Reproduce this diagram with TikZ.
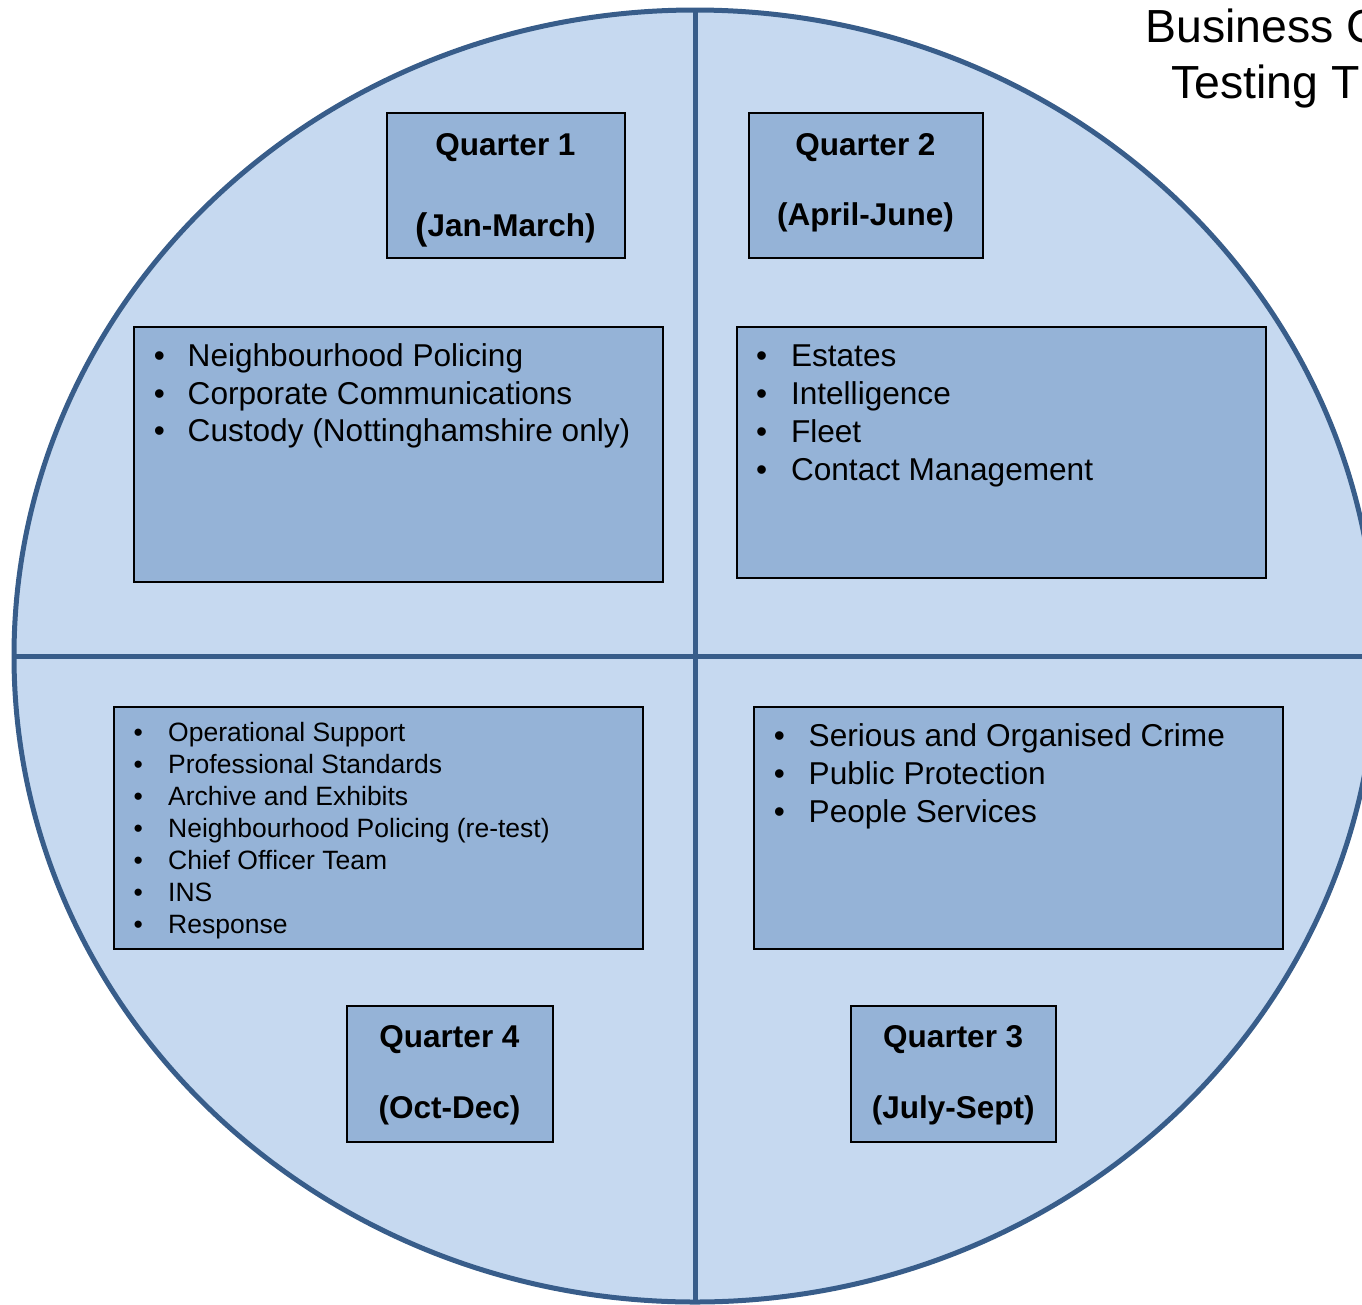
\documentclass[tikz,border=0pt]{standalone}
\usepackage{fontspec}
\setmainfont{Liberation Sans}
\usetikzlibrary{shapes.geometric}
\definecolor{ringline}{HTML}{385D8A}
\definecolor{ringfill}{HTML}{C6D9F0}
\definecolor{boxfill}{HTML}{95B3D7}
\tikzset{
  panel/.style={draw=black, line width=2pt, fill=boxfill, inner sep=0pt, outer sep=0pt},
  heading/.style={inner sep=0pt, anchor=base, font=\fontsize{31.5}{36}\selectfont\bfseries},
  item/.style={inner sep=0pt, anchor=base west},
  bulletmark/.style={inner sep=0pt, anchor=base},
  divider/.style={draw=ringline, line width=5pt},
}
\begin{document}
\begin{tikzpicture}[x=1pt,y=-1pt]
\useasboundingbox (0,0) rectangle (1362,1304);
\clip (0,0) rectangle (1362,1304);

% the year wheel and its quarter dividers
\node[ellipse, draw=ringline, line width=5pt, fill=ringfill, inner sep=0pt, outer sep=0pt,
      minimum width=1362pt, minimum height=1292pt] (wheel) at (695,656) {};
\draw[divider] (wheel.north) -- (wheel.south);
\draw[divider] (wheel.west) -- (wheel.east);

% heading in the top right corner
\node[item, font=\fontsize{46.4}{56}\selectfont] (head1) at (1145.5,42) {Business C};
\node[item, font=\fontsize{46.4}{56}\selectfont] (head2) at (1171,98) {Testing T};

% quarter labels
\node[panel, minimum width=238pt, minimum height=145pt] (q1title) at (505.5,185) {};
\node[heading] (q1name) at (505.5,155) {Quarter 1};
\node[heading] (q1months) at (505.5,236) {\raisebox{-3pt}{\fontsize{37}{37}\selectfont(}Jan-March)};

\node[panel, minimum width=234pt, minimum height=145pt] (q2title) at (865.5,185) {};
\node[heading] (q2name) at (865.5,155) {Quarter 2};
\node[heading] (q2months) at (865.5,225.5) {(April-June)};

\node[panel, minimum width=206pt, minimum height=136pt] (q4title) at (449.5,1073.5) {};
\node[heading] (q4name) at (449.5,1047) {Quarter 4};
\node[heading] (q4months) at (449.5,1118) {(Oct-Dec)};

\node[panel, minimum width=205.5pt, minimum height=136pt] (q3title) at (953.25,1073.5) {};
\node[heading] (q3name) at (953.25,1047) {Quarter 3};
\node[heading] (q3months) at (953.25,1118) {(July-Sept)};

% business areas tested in each quarter
\node[panel, minimum width=529pt, minimum height=255pt] (q1list) at (398,454) {};
\node[panel, minimum width=529.5pt, minimum height=251pt] (q2list) at (1001.25,452) {};
\node[panel, minimum width=529pt, minimum height=242pt] (q4list) at (378,827.5) {};
\node[panel, minimum width=529pt, minimum height=242pt] (q3list) at (1018,827.5) {};

\begin{scope}[nodes={font=\fontsize{31.6}{38}\selectfont}]
  \foreach \txt [count=\i from 0] in {Neighbourhood Policing, Corporate Communications, Custody (Nottinghamshire only)} {
    \node[bulletmark] (q1b\i) at (159.3,{366.7+37.6*\i}) {•};
    \node[item] (q1t\i) at (187.5,{366.7+37.6*\i}) {\txt};
  }
  \foreach \txt [count=\i from 0] in {Estates, Intelligence, Fleet, Contact Management} {
    \node[bulletmark] (q2b\i) at (761.7,{366.7+38*\i}) {•};
    \node[item] (q2t\i) at (790.8,{366.7+38*\i}) {\txt};
  }
  \foreach \txt [count=\i from 0] in {Serious and Organised Crime, Public Protection, People Services} {
    \node[bulletmark] (q3b\i) at (779.3,{746+38.3*\i}) {•};
    \node[item] (q3t\i) at (808.5,{746+38.3*\i}) {\txt};
  }
\end{scope}

\begin{scope}[nodes={font=\fontsize{26.5}{32}\selectfont}]
  \foreach \txt [count=\i from 0] in {Operational Support, Professional Standards, Archive and Exhibits, Neighbourhood Policing (re-test), Chief Officer Team, INS, Response} {
    \node[bulletmark] (q4b\i) at (138.3,{741.7+32*\i}) {•};
    \node[item] (q4t\i) at (168,{741.7+32*\i}) {\txt};
  }
\end{scope}
\end{tikzpicture}
\end{document}
